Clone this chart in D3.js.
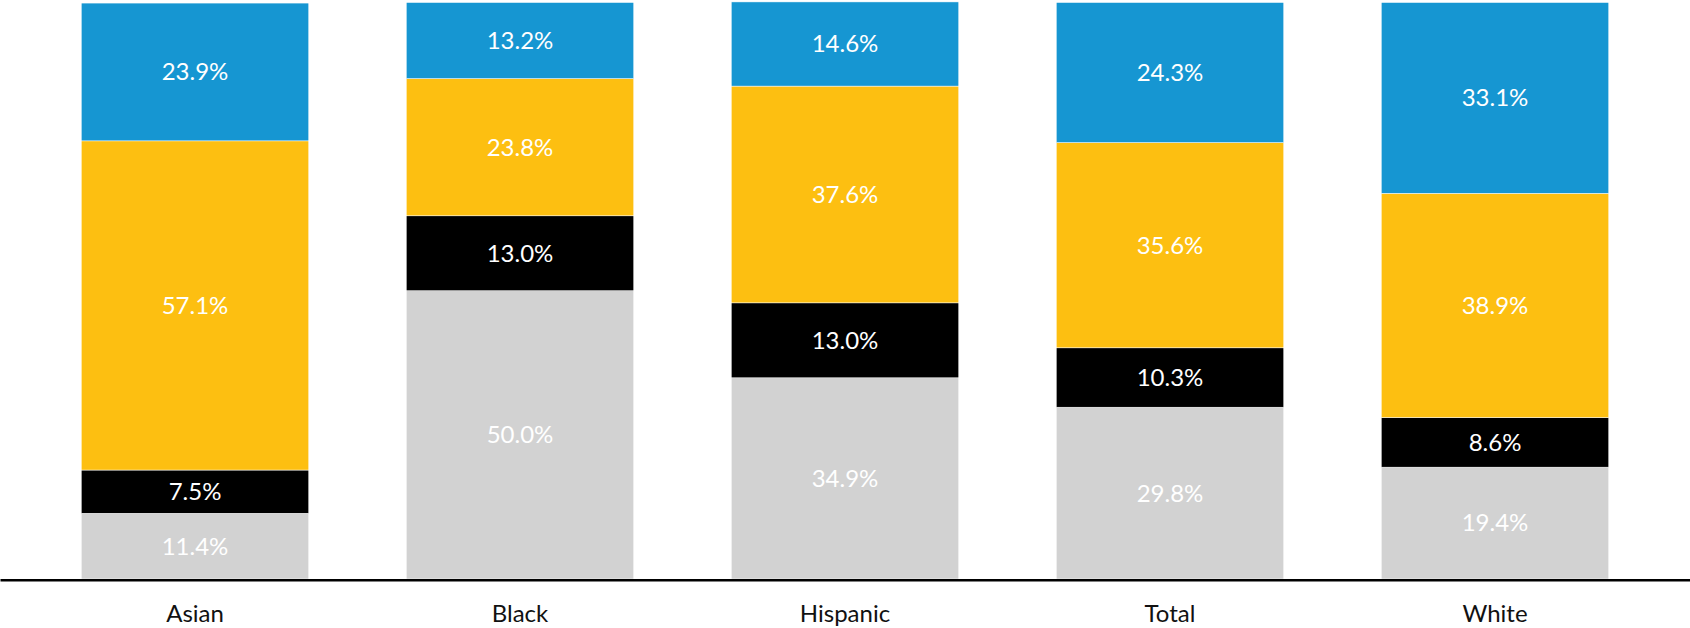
<!DOCTYPE html>
<html>
<head>
<meta charset="utf-8">
<script src="https://cdn.jsdelivr.net/npm/d3@7/dist/d3.min.js"></script>
<style>
  html, body { margin: 0; padding: 0; background: #fff; }
  svg { display: block; font-family: Lato, "Open Sans", sans-serif; }
</style>
</head>
<body>
<svg id="chart" width="1690" height="628"></svg>
<script>
// Groups along the x axis
const categories = ["Asian", "Black", "Hispanic", "Total", "White"];

// Shares (%) per group, stacked bottom to top
const greyShare   = [11.4, 50.0, 34.9, 29.8, 19.4];
const blackShare  = [7.5, 13.0, 13.0, 10.3, 8.6];
const yellowShare = [57.1, 23.8, 37.6, 35.6, 38.9];
const blueShare   = [23.9, 13.2, 14.6, 24.3, 33.1];

const seriesKeys = ["grey", "black", "yellow", "blue"];
const seriesValues = { grey: greyShare, black: blackShare, yellow: yellowShare, blue: blueShare };
const seriesColors = { grey: "#d2d2d2", black: "#000000", yellow: "#fdbf11", blue: "#1696d2" };

const width = 1690, height = 628;
const svg = d3.select("#chart");

const rows = categories.map((c, i) => {
  const r = { category: c };
  seriesKeys.forEach(k => { r[k] = seriesValues[k][i]; });
  return r;
});

const stacked = d3.stack().keys(seriesKeys)(rows);

const x = d3.scaleBand()
  .domain(categories)
  .range([0, width])
  .paddingInner(0.3)
  .paddingOuter(0.25);

const baseY = 579;
const y = d3.scaleLinear().domain([0, 100]).range([baseY, 2.5]);

const layer = svg.append("g").selectAll("g")
  .data(stacked)
  .join("g")
  .attr("fill", d => seriesColors[d.key]);

layer.selectAll("rect")
  .data(d => d)
  .join("rect")
  .attr("x", d => x(d.data.category))
  .attr("width", x.bandwidth())
  .attr("y", d => y(d[1]))
  .attr("height", d => y(d[0]) - y(d[1]))
  .attr("stroke", "#ffffff")
  .attr("stroke-width", 0.5);

// Value labels centred in each segment
layer.selectAll("text")
  .data(d => d.map(v => ({ v, key: d.key })))
  .join("text")
  .attr("x", d => x(d.v.data.category) + x.bandwidth() / 2)
  .attr("y", d => (y(d.v[0]) + y(d.v[1])) / 2)
  .attr("dy", "0.35em")
  .attr("text-anchor", "middle")
  .attr("fill", "#ffffff")
  .attr("font-size", 24)
  .text(d => d.v.data[d.key].toFixed(1) + "%");

// Category axis with a full-width baseline
const axis = svg.append("g")
  .attr("transform", `translate(0,${baseY + 0.8})`)
  .call(d3.axisBottom(x).tickSize(0).tickPadding(25));

axis.select(".domain")
  .attr("stroke", "#000")
  .attr("stroke-width", 2.5);

axis.selectAll("text")
  .attr("font-family", "Lato, 'Open Sans', sans-serif")
  .attr("font-size", 24)
  .attr("fill", "#111");
</script>
</body>
</html>
